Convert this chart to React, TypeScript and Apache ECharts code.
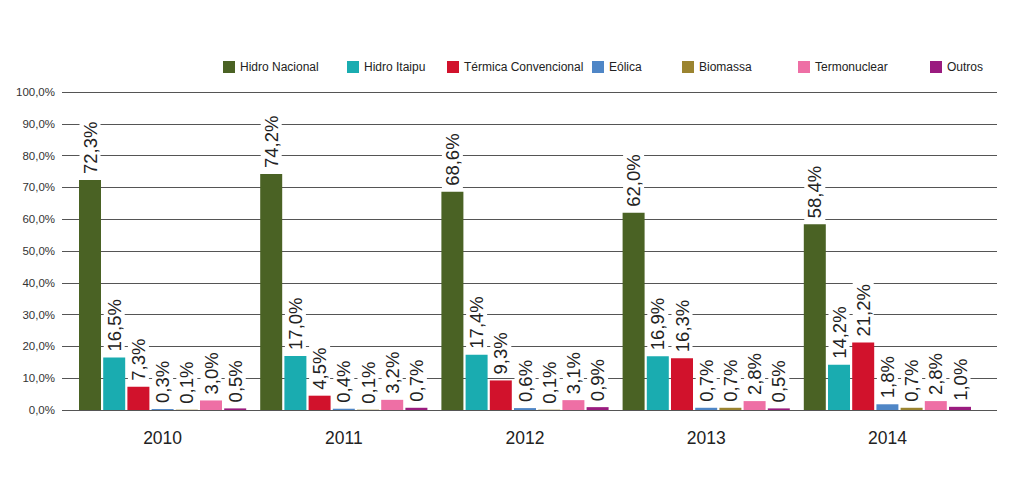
import React, { useEffect, useRef } from "react";
import * as echarts from "echarts";

const years = ["2010", "2011", "2012", "2013", "2014"];
const seriesNames = [
  "Hidro Nacional",
  "Hidro Itaipu",
  "Térmica Convencional",
  "Eólica",
  "Biomassa",
  "Termonuclear",
  "Outros",
];
const hidroNacional = [72.3, 74.2, 68.6, 62.0, 58.4];
const hidroItaipu = [16.5, 17.0, 17.4, 16.9, 14.2];
const termicaConvencional = [7.3, 4.5, 9.3, 16.3, 21.2];
const eolica = [0.3, 0.4, 0.6, 0.7, 1.8];
const biomassa = [0.1, 0.1, 0.1, 0.7, 0.7];
const termonuclear = [3.0, 3.2, 3.1, 2.8, 2.8];
const outros = [0.5, 0.7, 0.9, 0.5, 1.0];
const yTicks = [0, 10, 20, 30, 40, 50, 60, 70, 80, 90, 100];

const seriesValues = [
  hidroNacional,
  hidroItaipu,
  termicaConvencional,
  eolica,
  biomassa,
  termonuclear,
  outros,
];
const colors = ["#4a6224", "#1aacb0", "#d1122c", "#4f86c6", "#9b8430", "#ee6fa5", "#9a1b7f"];
const legendLeft = [218, 342, 442, 587, 677, 793, 925];

const fmt = (v: number) => v.toFixed(1).replace(".", ",") + "%";
const FONT = "'Liberation Sans', Arial, Helvetica, sans-serif";

export default function App() {
  const ref = useRef<HTMLDivElement>(null);
  useEffect(() => {
    if (!ref.current) return;
    const chart = echarts.init(ref.current, null, { renderer: "svg" });
    const option: any = {
      animation: false,
      backgroundColor: "#ffffff",
      textStyle: { fontFamily: FONT },
      legend: seriesNames.map((n, i) => ({
        data: [n],
        left: legendLeft[i],
        top: 56,
        itemWidth: 12,
        itemHeight: 12,
        itemGap: 0,
        icon: "rect",
        selectedMode: false,
        textStyle: { fontSize: 12, color: "#222", fontFamily: FONT },
      })),
      grid: [
        { left: 62, right: 27, top: 92, bottom: 68 },
        { left: 72, right: 46, top: 92, bottom: 68 },
      ],
      xAxis: [
        { gridIndex: 0, type: "value", show: false, min: 0, max: 1 },
        {
          gridIndex: 1,
          type: "category",
          data: years,
          axisLine: { show: false },
          axisTick: { show: false },
          axisLabel: { fontSize: 17.5, color: "#222", margin: 19, fontFamily: FONT },
        },
      ],
      yAxis: [
        {
          gridIndex: 0,
          type: "value",
          min: yTicks[0],
          max: yTicks[yTicks.length - 1],
          interval: 10,
          axisLine: { show: false },
          axisTick: { show: false },
          axisLabel: {
            fontSize: 11.5,
            color: "#333",
            margin: 7,
            fontFamily: FONT,
            formatter: (v: number) => fmt(v),
          },
          splitLine: { lineStyle: { color: "#555", width: 1 } },
        },
        { gridIndex: 1, type: "value", min: 0, max: 100, show: false, splitLine: { show: false } },
      ],
      series: seriesNames.map((n, i) => ({
        name: n,
        type: "bar",
        xAxisIndex: 1,
        yAxisIndex: 1,
        data: seriesValues[i],
        barWidth: 22,
        barGap: "10%",
        itemStyle: { color: colors[i] },
        label: {
          show: true,
          position: "top",
          rotate: 90,
          align: "left",
          verticalAlign: "middle",
          distance: 3,
          fontSize: 18.5,
          color: "#222",
          fontFamily: FONT,
          backgroundColor: "#ffffff",
          padding: [1, 3, 1, 3],
          formatter: (p: any) => fmt(p.value),
        },
      })),
    };
    chart.setOption(option);
    return () => chart.dispose();
  }, []);
  return <div ref={ref} style={{ width: 1024, height: 478, margin: -8 }} />;
}
